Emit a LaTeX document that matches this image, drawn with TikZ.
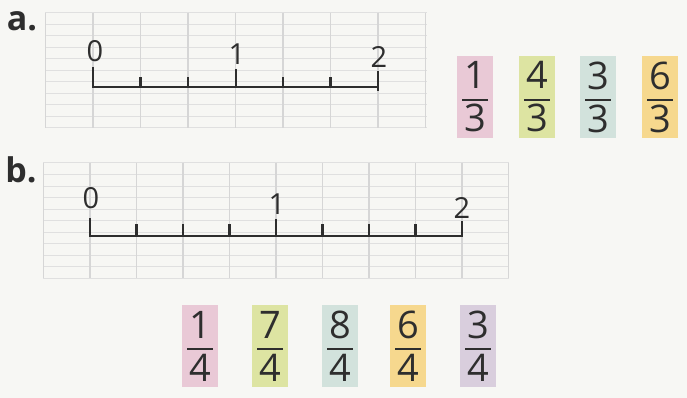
\documentclass[tikz,border=0pt]{standalone}
\usepackage{fontspec}
\setmainfont{Open Sans}
\usetikzlibrary{positioning,calc}
\definecolor{paper}{HTML}{F7F7F4}
\definecolor{gridh}{HTML}{E0E0E0}
\definecolor{gridv}{HTML}{D6D6D6}
\definecolor{ink}{HTML}{2E2E2E}
\definecolor{fpink}{HTML}{E9C9D6}
\definecolor{fgreen}{HTML}{DDE4A2}
\definecolor{fteal}{HTML}{D2E2DC}
\definecolor{forange}{HTML}{F6D88E}
\definecolor{fpurple}{HTML}{D9CEDD}

\begin{document}
\begin{tikzpicture}[x=1pt,y=-1pt,
  axis/.style={draw=ink, line width=2.2pt},
  fracbox/.style={minimum width=36pt, minimum height=82pt, inner sep=0pt, align=center, text=ink,
    font=\fontsize{38}{43}\selectfont,
    path picture={\draw[ink, line width=1.6pt] ([xshift=-13pt,yshift=-3pt]path picture bounding box.center) -- ++(26pt,0);}},
  numlbl/.style={text=ink, font=\fontsize{29}{30}\selectfont, inner sep=0pt},
  part/.style={text=ink, font=\bfseries\fontsize{34}{36}\selectfont, inner sep=0pt}]
\fill[paper] (0,0) rectangle (687,398);
% grid a
\foreach \k in {0,...,10} \draw[gridh, line width=1pt] (45,{13+11.5*\k}) -- (427,{13+11.5*\k});
\foreach \k in {-1,...,7} \draw[gridv, line width=1.1pt] ({93+47.5*\k},13) -- ({93+47.5*\k},128);
% grid b
\foreach \k in {0,...,10} \draw[gridh, line width=1pt] (43,{163+11.5*\k}) -- (509,{163+11.5*\k});
\foreach \k in {-1,...,9} \draw[gridv, line width=1.1pt] ({90+46.5*\k},163) -- ({90+46.5*\k},278);

\node[part] (pa) at (22,21) {a.};
\node[part] (pb) at (21,170) {b.};

% number line a
\coordinate (a0) at (93,87);
\coordinate (a1) at (236,87);
\coordinate (a2) at (378,87);
\draw[axis] (a0) ++(0,-20) -- (a0) -- (a2);
\draw[axis] (a1) ++(0,-18) -- (a1);
\draw[axis] (a2) ++(0,-16) -- ++(0,20);
\foreach \k in {1,2,4,5} \draw[axis] ({93+47.5*\k},87) -- ++(0,-10);
\node[numlbl] (na0) at (95,51) {0};
\node[numlbl] (na1) at (237,54) {1};
\node[numlbl] (na2) at (379,57) {2};

% number line b
\coordinate (b0) at (90,236);
\coordinate (b1) at (276,236);
\coordinate (b2) at (462,236);
\draw[axis] (b0) ++(0,-18) -- (b0) -- (b2) -- ++(0,-15);
\draw[axis] (b1) ++(0,-17) -- (b1);
\foreach \k in {1,2,3,5,6,7} \draw[axis] ({90+46.5*\k},236) -- ++(0,-12);
\node[numlbl] (nb0) at (91,198) {0};
\node[numlbl] (nb1) at (277,204) {1};
\node[numlbl] (nb2) at (462,208) {2};

% fractions
\foreach \n/\d/\c/\xx in {1/3/fpink/475, 4/3/fgreen/537, 3/3/fteal/598, 6/3/forange/660}
  \node[fracbox, fill=\c] (fa\n) at (\xx,97) {\n\\\d};
\foreach \n/\d/\c/\xx in {1/4/fpink/200, 7/4/fgreen/270, 8/4/fteal/340, 6/4/forange/408, 3/4/fpurple/478}
  \node[fracbox, fill=\c] (fb\n) at (\xx,346) {\n\\\d};
\end{tikzpicture}
\end{document}
